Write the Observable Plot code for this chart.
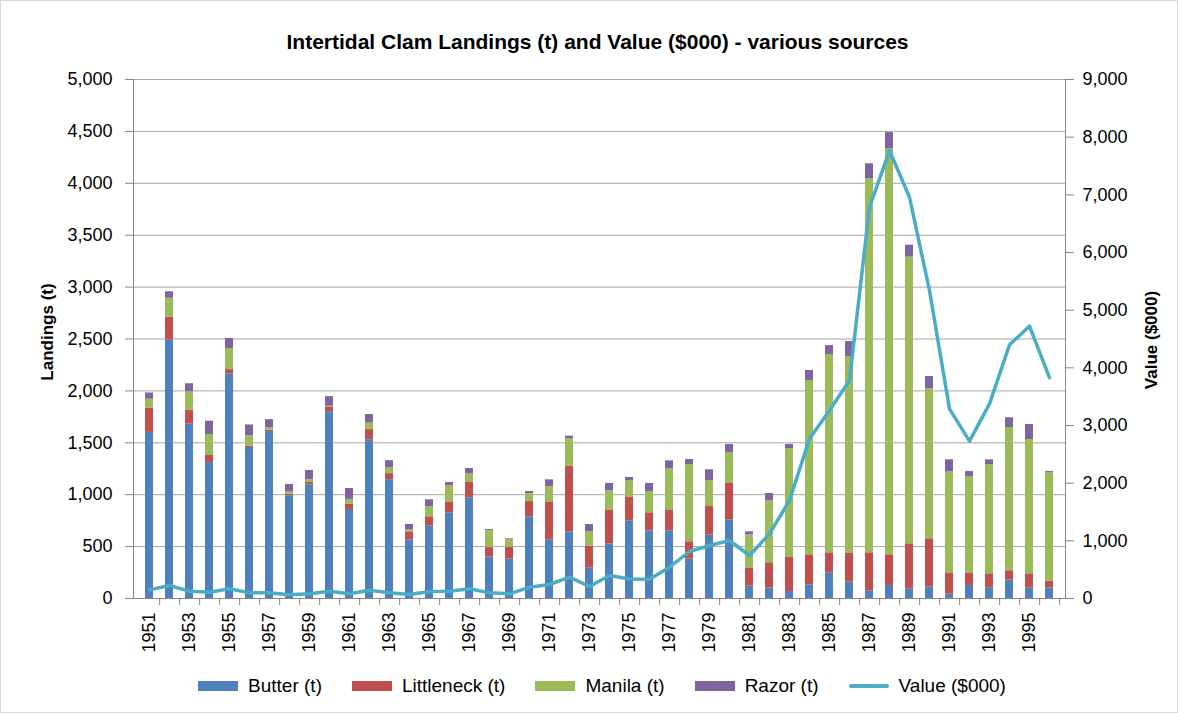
<!DOCTYPE html>
<html>
<head>
<meta charset="utf-8">
<script src="https://cdn.jsdelivr.net/npm/d3@7"></script>
<script src="https://cdn.jsdelivr.net/npm/@observablehq/plot@0.6"></script>
<style>
  html, body { margin: 0; padding: 0; background: #fff; }
  body { font-family: "Liberation Sans", Arial, sans-serif; color: #000; }
  #wrap { position: relative; width: 1178px; height: 713px; overflow: hidden; }
  #frame { position: absolute; left: 0; top: 0; width: 1176px; height: 711px; border: 1px solid #d9d9d9; pointer-events: none; }
  #chart { position: absolute; left: 0; top: 0; }
  #title { position: absolute; left: 0; width: 1195px; top: 29px; text-align: center; font-weight: bold; font-size: 21px; line-height: 25px; white-space: nowrap; }
  .ylab { position: absolute; font-weight: bold; font-size: 17px; white-space: nowrap; transform: translate(-50%, -50%) rotate(-90deg); }
  #legend { position: absolute; left: 0; width: 1204px; top: 674px; height: 24px; display: flex; justify-content: center; align-items: center; gap: 30px; font-size: 19px; }
  .item { display: flex; align-items: center; white-space: nowrap; }
  .sw { display: inline-block; width: 40px; height: 10px; margin-right: 10px; }
  .ln { display: inline-block; width: 40px; height: 3.5px; border-radius: 2px; margin-right: 10px; }
</style>
</head>
<body>
<div id="wrap">
  <div id="chart"></div>
  <div id="title"></div>
  <div class="ylab" id="ylabL" style="left:47.5px; top:332px;"></div>
  <div class="ylab" id="ylabR" style="left:1152px; top:340px;"></div>
  <div id="legend"></div>
  <div id="frame"></div>
</div>
<script>
// ---- Data ----
const years = [1951,1952,1953,1954,1955,1956,1957,1958,1959,1960,1961,1962,1963,1964,1965,1966,1967,1968,1969,1970,
               1971,1972,1973,1974,1975,1976,1977,1978,1979,1980,1981,1982,1983,1984,1985,1986,1987,1988,1989,1990,
               1991,1992,1993,1994,1995,1996];

const butter = [1600,2490,1680,1310,2165,1455,1608,990,1095,1800,857,1530,1145,
                565,700,826,970,400,382,787,565,642,295,527,748,
                652,652,379,610,758,119,100,67,
                132,244,157,71,125,90,109,41,125,100,177,100,100];
const littleneck = [235,220,135,68,40,12,13,15,22,45,50,97,58,
                    77,87,105,148,90,109,147,366,630,209,327,231,
                    174,202,167,276,356,176,244,334,
                    289,196,283,369,296,437,466,206,122,138,90,138,67];
const manila = [85,183,177,202,200,100,25,20,30,7,48,68,55,
                20,96,154,83,164,74,78,148,269,138,183,154,
                205,395,745,248,289,318,597,1041,
                1679,1911,1891,3603,3911,2761,1448,973,925,1050,1380,1294,1044];
const razor = [60,62,77,128,100,105,77,73,87,93,105,77,70,
               51,68,33,51,10,10,19,64,23,71,71,33,
               77,77,48,106,81,29,71,42,
               97,86,145,145,157,116,116,116,51,48,94,144,12];
const value = [150,225,127,110,168,98,98,64,81,127,81,144,100,
               69,121,127,168,98,81,196,243,370,208,399,338,
               335,543,815,919,1006,746,1121,1699,
               2769,3260,3780,6785,7768,6958,5341,3289,2728,3376,4399,4722,3830];

const seriesNames = ["Butter (t)", "Littleneck (t)", "Manila (t)", "Razor (t)"];
const seriesData = [butter, littleneck, manila, razor];
const seriesColors = ["#4F81BD", "#C0504D", "#9BBB59", "#8064A2"];
const lineName = "Value ($000)";
const lineColor = "#4BACC6";

const leftTicks = [0,500,1000,1500,2000,2500,3000,3500,4000,4500,5000];
const rightTicks = [0,1000,2000,3000,4000,5000,6000,7000,8000,9000];
const labelYears = [1951,1953,1955,1957,1959,1961,1963,1965,1967,1969,1971,1973,1975,1977,1979,1981,1983,1985,1987,1989,1991,1993,1995];

const titleText = "Intertidal Clam Landings (t) and Value ($000) - various sources";
const leftLabel = "Landings (t)";
const rightLabel = "Value ($000)";

// ---- Build ----
const W = 1178, H = 713, mL = 133, mR = 113, mT = 79, mB = 115;
const leftMax = 5000, rightMax = 9000;
const k = leftMax / rightMax;
const step = (W - mL - mR) / years.length;

const rows = years.flatMap((yr, i) => seriesNames.map((s, j) => ({year: yr, series: s, t: seriesData[j][i]})));
const lineRows = years.map((yr, i) => ({year: yr, v: value[i] * k}));
const fmt = d3.format(",");
const axisGray = "#868686";

const chart = Plot.plot({
  width: W, height: H,
  marginLeft: mL, marginRight: mR, marginTop: mT, marginBottom: mB,
  style: {fontFamily: '"Liberation Sans", Arial, sans-serif', fontSize: "18px", color: "#000", background: "transparent"},
  x: {type: "band", domain: years, paddingInner: 0.6, paddingOuter: 0.3},
  y: {domain: [0, leftMax]},
  color: {domain: seriesNames, range: seriesColors},
  marks: [
    Plot.gridY(leftTicks, {stroke: "#a6a6a6", strokeOpacity: 1}),
    Plot.barY(rows, Plot.stackY({order: seriesNames}, {x: "year", y: "t", fill: "series"})),
    Plot.line(lineRows, {x: "year", y: "v", stroke: lineColor, strokeWidth: 3.5, strokeLinejoin: "round", strokeLinecap: "round"}),
    Plot.ruleY([0], {stroke: axisGray}),
    Plot.frame({anchor: "left", stroke: axisGray}),
    Plot.frame({anchor: "right", stroke: axisGray}),
    Plot.axisY(leftTicks, {anchor: "left", tickFormat: fmt, tickSize: 8, tickPadding: 13, stroke: axisGray, label: null, fontSize: 18}),
    Plot.axisY(rightTicks.map(v => v * k), {anchor: "right", tickFormat: d => fmt(Math.round(d / k)), tickSize: 8, tickPadding: 9, stroke: axisGray, label: null, fontSize: 18}),
    Plot.axisX(years, {anchor: "bottom", tickSize: 7, fill: "none", dx: step / 2, stroke: axisGray, label: null}),
    Plot.axisX(years, {anchor: "bottom", tickSize: 0, tickPadding: 14, tickRotate: -90, tickFormat: d => labelYears.includes(d) ? String(d) : "", label: null, fontSize: 18})
  ]
});
document.getElementById("chart").appendChild(chart);

document.getElementById("title").textContent = titleText;
document.getElementById("ylabL").textContent = leftLabel;
document.getElementById("ylabR").textContent = rightLabel;

const legend = document.getElementById("legend");
seriesNames.forEach((s, j) => {
  const it = document.createElement("div"); it.className = "item";
  const sw = document.createElement("span"); sw.className = "sw"; sw.style.background = seriesColors[j];
  const tx = document.createElement("span"); tx.textContent = s;
  it.appendChild(sw); it.appendChild(tx); legend.appendChild(it);
});
{
  const it = document.createElement("div"); it.className = "item";
  const sw = document.createElement("span"); sw.className = "ln"; sw.style.background = lineColor;
  const tx = document.createElement("span"); tx.textContent = lineName;
  it.appendChild(sw); it.appendChild(tx); legend.appendChild(it);
}
</script>
</body>
</html>
